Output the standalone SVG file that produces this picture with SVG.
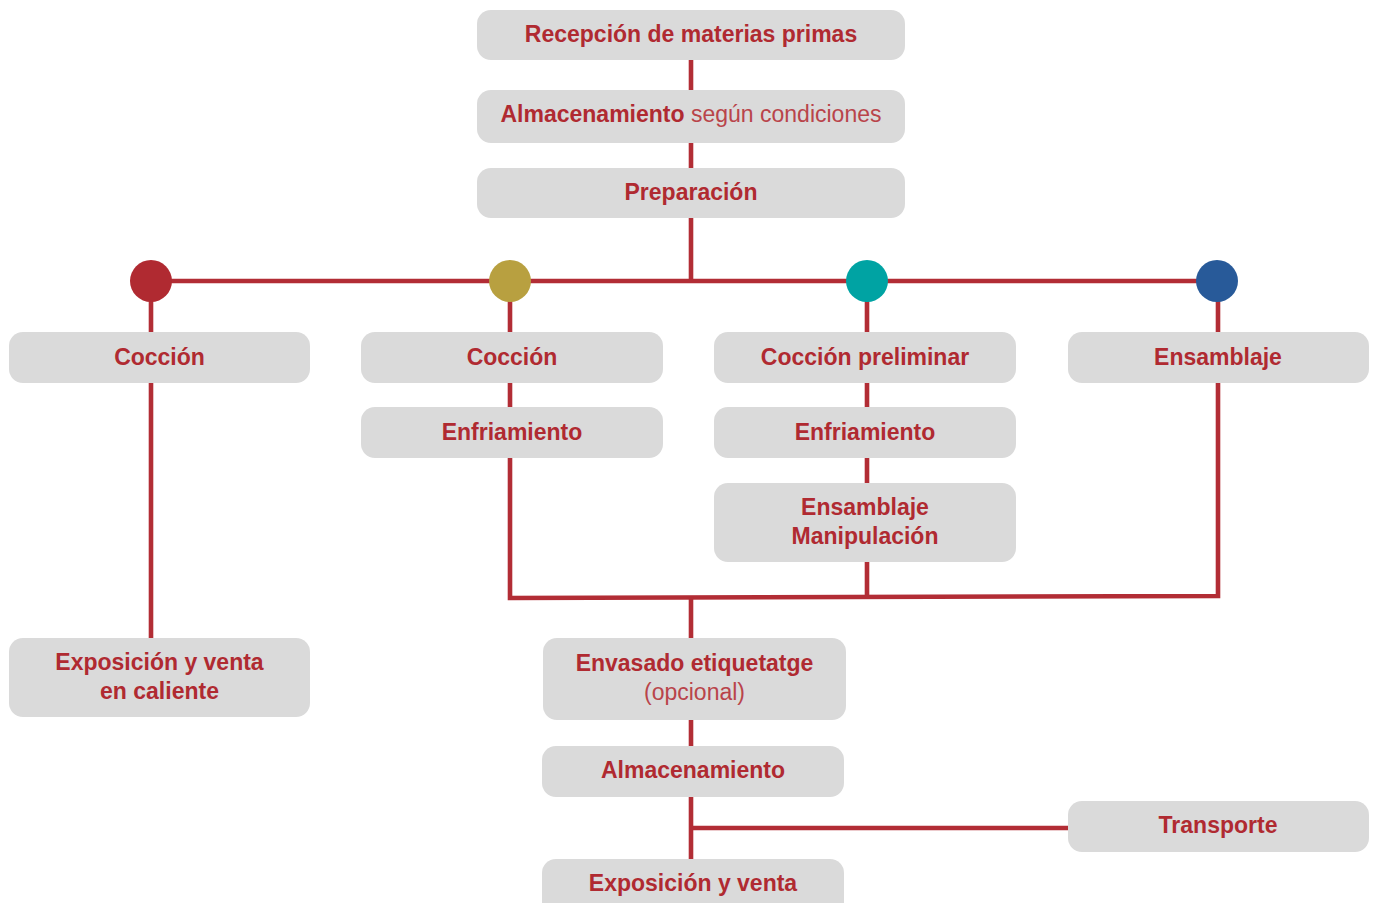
<svg xmlns="http://www.w3.org/2000/svg" width="1375" height="903" viewBox="0 0 1375 903">
<style>
.box{fill:#dadada}
.t{font-family:"Liberation Sans",Arial,sans-serif;font-weight:bold;font-size:23px;fill:#b02a31;text-anchor:middle}
.l{font-weight:normal;fill:#b9444a}
.c{fill:none;stroke:#b22d35;stroke-width:4.6}
</style>
<rect width="1375" height="903" fill="#ffffff"/>
<g id="connectors">
<path class="c" d="M691 60V281"/>
<path class="c" d="M151 281H1217"/>
<path class="c" d="M151 281V638"/>
<path class="c" d="M510 281V598L1218 596V281"/>
<path class="c" d="M867 281V597"/>
<path class="c" d="M691 597V903"/>
<path class="c" d="M691 828H1068"/>
</g>
<g id="branches">
<circle cx="151" cy="281" r="21" fill="#b02a31"/>
<circle cx="510" cy="281" r="21" fill="#b8a040"/>
<circle cx="867" cy="281" r="21" fill="#00a3a3"/>
<circle cx="1217" cy="281" r="21" fill="#285a99"/>
</g>
<g id="n-recepcion"><rect class="box" x="477" y="10" width="428" height="50" rx="14"/><text class="t" x="691" y="42">Recepción de materias primas</text></g>
<g id="n-almacen1"><rect class="box" x="477" y="90" width="428" height="53" rx="14"/><text class="t" x="691" y="122">Almacenamiento <tspan class="l">según condiciones</tspan></text></g>
<g id="n-preparacion"><rect class="box" x="477" y="168" width="428" height="50" rx="14"/><text class="t" x="691" y="200">Preparación</text></g>
<g id="n-coccion1"><rect class="box" x="9" y="332" width="301" height="51" rx="14"/><text class="t" x="159.5" y="365">Cocción</text></g>
<g id="n-coccion2"><rect class="box" x="361" y="332" width="302" height="51" rx="14"/><text class="t" x="512" y="365">Cocción</text></g>
<g id="n-coccion3"><rect class="box" x="714" y="332" width="302" height="51" rx="14"/><text class="t" x="865" y="365">Cocción preliminar</text></g>
<g id="n-ensamblaje"><rect class="box" x="1068" y="332" width="301" height="51" rx="14"/><text class="t" x="1218" y="365">Ensamblaje</text></g>
<g id="n-enfriamiento1"><rect class="box" x="361" y="407" width="302" height="51" rx="14"/><text class="t" x="512" y="440">Enfriamiento</text></g>
<g id="n-enfriamiento2"><rect class="box" x="714" y="407" width="302" height="51" rx="14"/><text class="t" x="865" y="440">Enfriamiento</text></g>
<g id="n-ensamblaje-manip"><rect class="box" x="714" y="483" width="302" height="79" rx="14"/><text class="t" x="865" y="515">Ensamblaje</text><text class="t" x="865" y="544">Manipulación</text></g>
<g id="n-exposicion-caliente"><rect class="box" x="9" y="638" width="301" height="79" rx="14"/><text class="t" x="159.5" y="670">Exposición y venta</text><text class="t" x="159.5" y="699">en caliente</text></g>
<g id="n-envasado"><rect class="box" x="543" y="638" width="303" height="82" rx="14"/><text class="t" x="694.5" y="671">Envasado etiquetatge</text><text class="t l" x="694.5" y="700">(opcional)</text></g>
<g id="n-almacen2"><rect class="box" x="542" y="746" width="302" height="51" rx="14"/><text class="t" x="693" y="778">Almacenamiento</text></g>
<g id="n-transporte"><rect class="box" x="1068" y="801" width="301" height="51" rx="14"/><text class="t" x="1218" y="833">Transporte</text></g>
<g id="n-exposicion"><rect class="box" x="542" y="859" width="302" height="60" rx="14"/><text class="t" x="693" y="891">Exposición y venta</text></g>
</svg>
